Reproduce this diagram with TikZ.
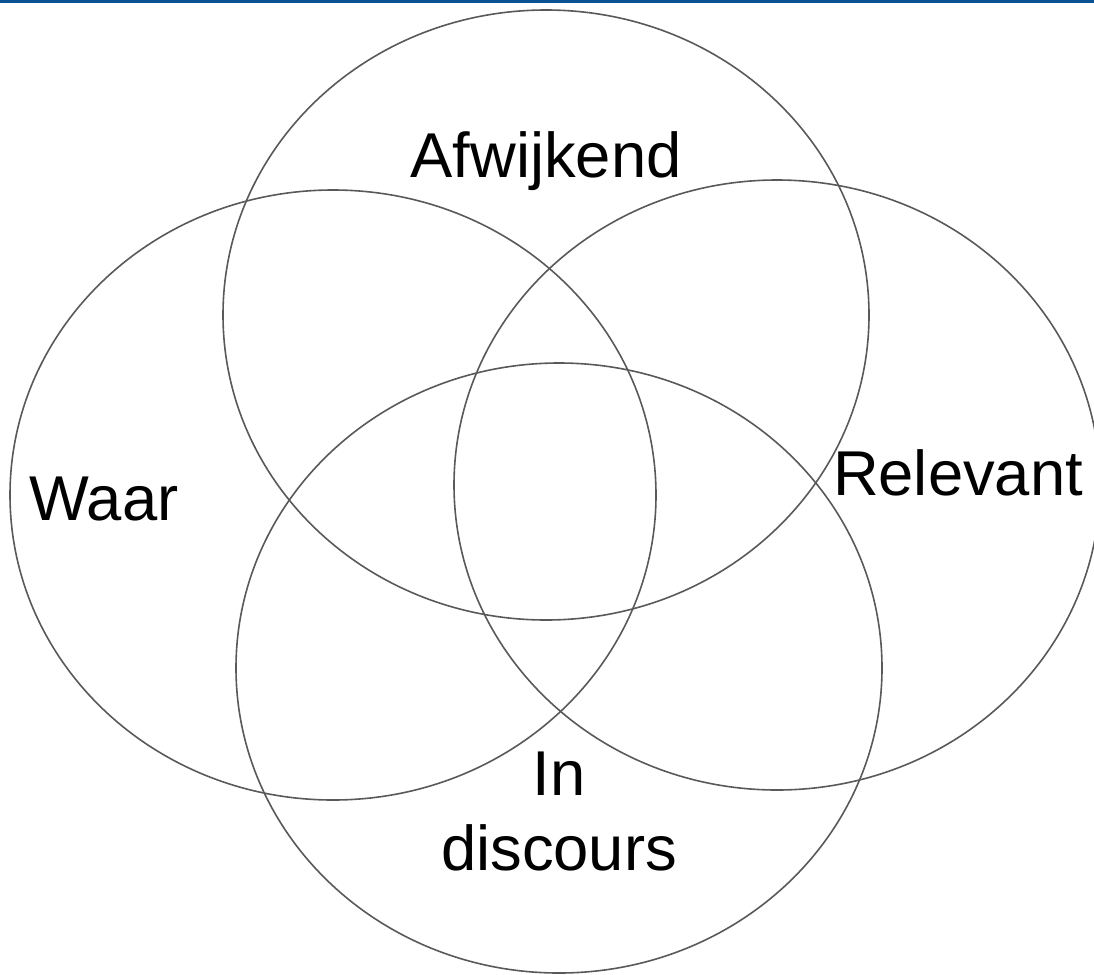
\documentclass[tikz,border=0pt]{standalone}
\usepackage{fontspec}
\setmainfont{Liberation Sans}
\usetikzlibrary{shapes.geometric}
\definecolor{ringgray}{HTML}{595959}
\definecolor{topblue}{HTML}{0B5394}
\begin{document}
\begin{tikzpicture}[x=0.75pt, y=-0.75pt,
  ring/.style={draw=ringgray, line width=1.2pt, ellipse, inner sep=0pt,
    minimum width=484.5pt, minimum height=457.5pt},
  label/.style={font=\fontsize{47.5}{56}\selectfont, anchor=base, align=center}]
\useasboundingbox (0,0) rectangle (1094,974);
\fill[topblue] (0,0) rectangle (1094,3);

\node[ring] (A) at (546,315) {};
\node[ring] (W) at (333,495) {};
\node[ring] (R) at (777,485) {};
\node[ring] (D) at (559,668) {};

\node[label] (a) at (546,177) {Afwijkend};
\node[label] (w) at (104,520) {Waar};
\node[label] (r) at (958,495) {Relevant};
\node[label] (d) at (559,870) {In\\discours};
\end{tikzpicture}
\end{document}
